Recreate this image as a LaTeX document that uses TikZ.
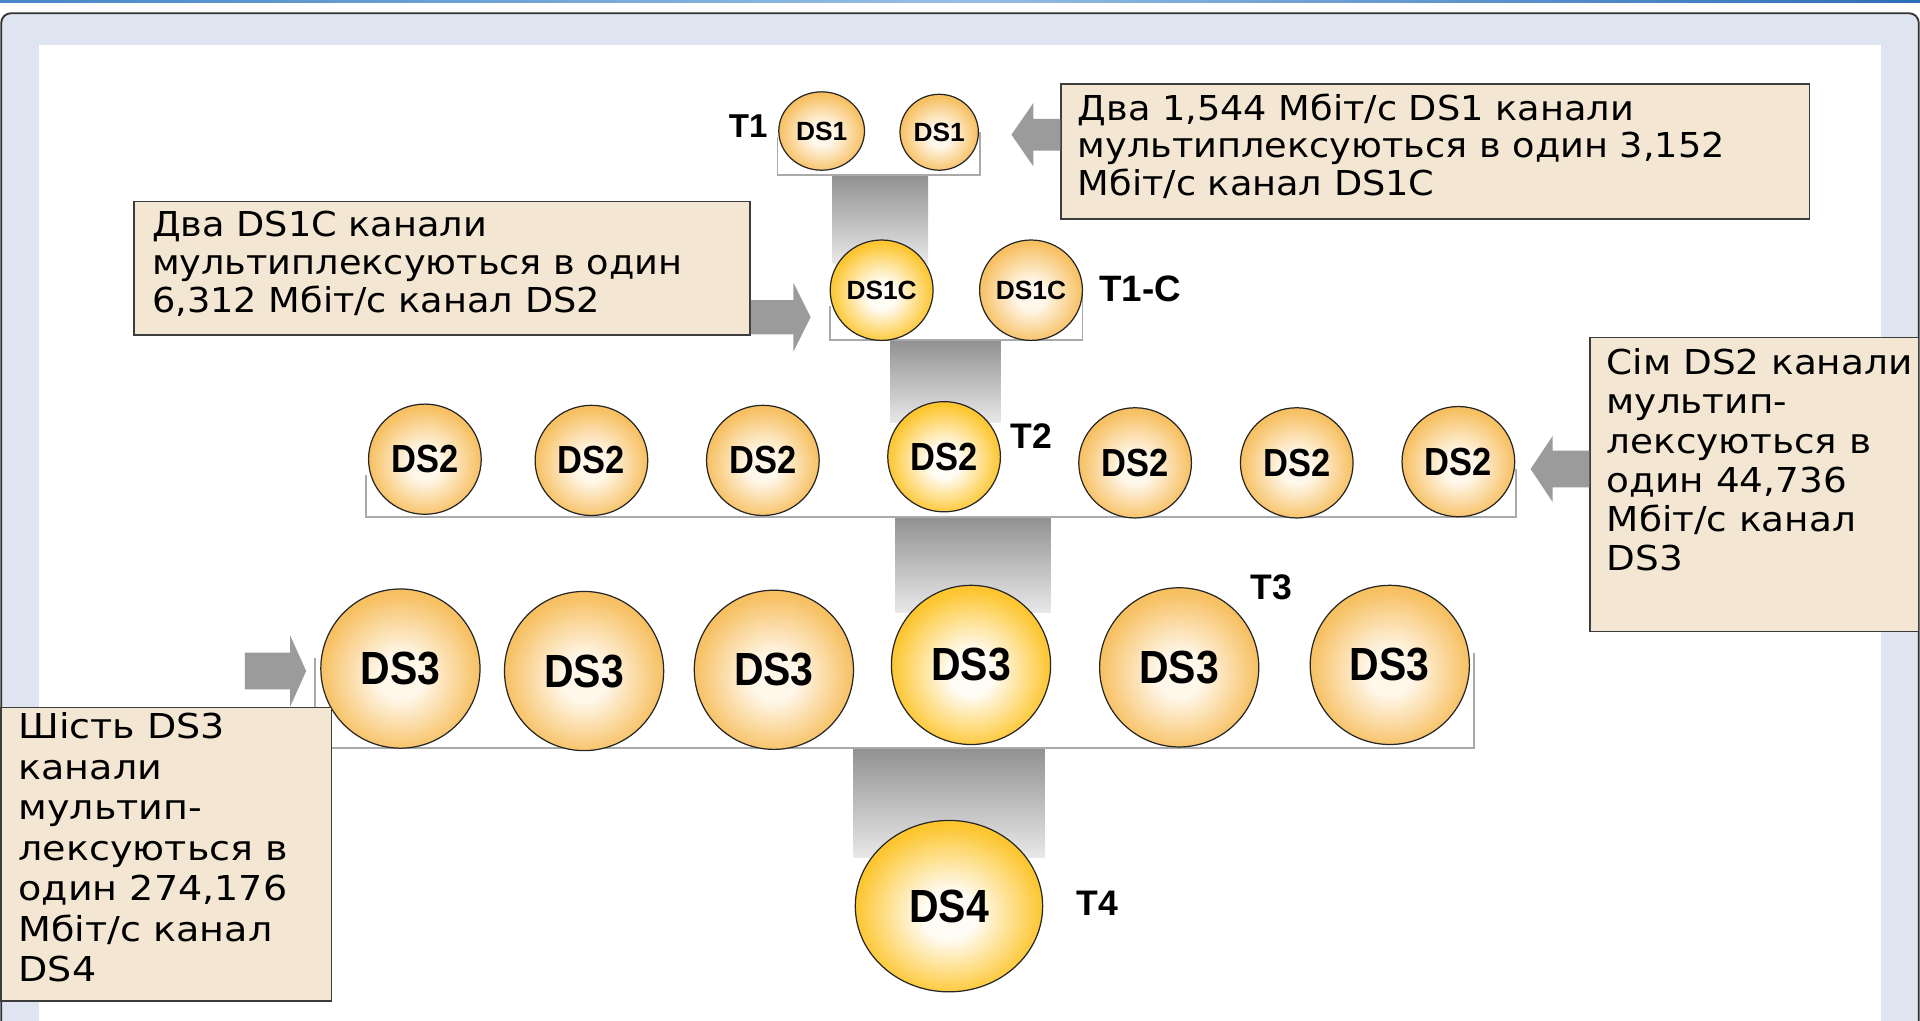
\documentclass[tikz,border=0pt]{standalone}
\usepackage{fontspec}
\usepackage{graphicx}
\setmainfont{DejaVu Sans}
\newfontfamily\boxfontA{DejaVu Sans}[FakeStretch=1.07]
\newfontfamily\boxfontC{DejaVu Sans}[FakeStretch=1.09]
\newfontfamily\boxfontD{DejaVu Sans}[FakeStretch=1.11]
\newfontfamily\arialf{Liberation Sans}
\usetikzlibrary{shapes.geometric}
\definecolor{frameblue}{RGB}{222,228,240}
\definecolor{frameline}{RGB}{50,50,50}
\definecolor{boxfill}{RGB}{243,231,211}
\definecolor{boxline}{RGB}{60,60,60}
\definecolor{ballin}{RGB}{255,247,234}
\definecolor{ballout}{RGB}{247,192,98}
\definecolor{hotin}{RGB}{255,252,245}
\definecolor{hotout}{RGB}{253,198,48}
\definecolor{brgray}{RGB}{170,170,170}
\definecolor{argray}{RGB}{155,155,155}
\definecolor{cgtop}{RGB}{145,145,145}
\definecolor{cgbot}{RGB}{232,232,232}
\definecolor{topA}{RGB}{70,135,200}
\definecolor{topB}{RGB}{150,190,228}
\definecolor{topC}{RGB}{45,110,185}
\pgfdeclareradialshading{ballnormal}{\pgfpoint{0bp}{-3bp}}{color(0bp)=(ballin); color(7bp)=(ballin); color(25bp)=(ballout); color(50bp)=(ballout)}
\pgfdeclareradialshading{ballhot}{\pgfpoint{0bp}{-3bp}}{color(0bp)=(hotin); color(7bp)=(hotin); color(25bp)=(hotout); color(50bp)=(hotout)}
\tikzset{
  ball/.style={ellipse, draw=black!85, line width=1pt, inner sep=0pt, shade, shading=ballnormal},
  hotball/.style={ball, shading=ballhot},
  smallball/.style={font=\arialf\bfseries\fontsize{21.5}{21.5}\selectfont},
  midball/.style={minimum width=92pt, minimum height=90pt, font=\arialf\bfseries\fontsize{32}{32}\selectfont},
  bigball/.style={minimum width=130pt, minimum height=130pt, font=\arialf\bfseries\fontsize{38}{38}\selectfont},
  tlabel/.style={font=\arialf\bfseries\fontsize{29}{29}\selectfont, inner sep=0pt},
  infobox/.style={draw=boxline, line width=1.3pt, fill=boxfill, inner sep=0pt, anchor=north west},
  boxtext/.style={inner sep=0pt, anchor=north west, align=left},
  connector/.style={top color=cgtop, bottom color=cgbot},
  bracket/.style={draw=brgray, line width=1.5pt},
  blockarrow/.style={fill=argray}
}
\newcommand{\nrw}[1]{\scalebox{0.88}[1]{#1}}
\begin{document}
\begin{tikzpicture}[x=1pt,y=-1pt]
\useasboundingbox (0,0) rectangle (1568,833);
\begin{scope}
\clip (0,0) rectangle (1568,833);
% top strip
\shade[left color=topA, right color=topC, middle color=topB] (0,0) rectangle (1568,2.6);
\fill[white] (0,2.6) rectangle (1568,10);
% frame
\draw[frameline, line width=1.5pt, fill=frameblue, rounded corners=8pt] (1,10.8) rectangle (1567,880);
\fill[white] (31.8,36.7) rectangle (1536,880);
\end{scope}

% connectors
\shade[connector] (680,143) rectangle (758,215);
\shade[connector] (727,278) rectangle (817,345);
\shade[connector] (731,422) rectangle (858,500);
\shade[connector] (697,611) rectangle (853,700);

% brackets
\draw[bracket] (635,112) -- (635,143) -- (800,143) -- (800,108);
\draw[bracket] (678,250) -- (678,278) -- (884,278) -- (884,240);
\draw[bracket] (299,388) -- (299,422) -- (1238,422) -- (1238,383);
\draw[bracket] (257,537) -- (257,611) -- (1204,611) -- (1204,533);

% T1 row
\node[ball, smallball, minimum width=70pt, minimum height=64pt] (ds1a) at (671,107) {DS1};
\node[ball, smallball, minimum width=64pt, minimum height=62pt] (ds1b) at (767,108) {DS1};
% T1-C row
\node[hotball, smallball, minimum width=84pt, minimum height=82pt] (ds1ca) at (720,237) {DS1C};
\node[ball, smallball, minimum width=84pt, minimum height=82pt] (ds1cb) at (842,237) {DS1C};
% DS2 row
\node[ball, midball] (ds2a) at (347,375) {\nrw{DS2}};
\node[ball, midball] (ds2b) at (483,376) {\nrw{DS2}};
\node[ball, midball] (ds2c) at (623,376) {\nrw{DS2}};
\node[hotball, midball] (ds2d) at (771,373) {\nrw{DS2}};
\node[ball, midball] (ds2e) at (927,378) {\nrw{DS2}};
\node[ball, midball] (ds2f) at (1059,378) {\nrw{DS2}};
\node[ball, midball] (ds2g) at (1191,377) {\nrw{DS2}};
% DS3 row
\node[ball, bigball] (ds3a) at (327,546) {\nrw{DS3}};
\node[ball, bigball] (ds3b) at (477,548) {\nrw{DS3}};
\node[ball, bigball] (ds3c) at (632,547) {\nrw{DS3}};
\node[hotball, bigball] (ds3d) at (793,543) {\nrw{DS3}};
\node[ball, bigball] (ds3e) at (963,545) {\nrw{DS3}};
\node[ball, bigball] (ds3f) at (1135,543) {\nrw{DS3}};
% DS4
\node[hotball, bigball, minimum width=153pt, minimum height=140pt] (ds4) at (775,740) {\nrw{DS4}};

% T labels
\node[tlabel, font=\arialf\bfseries\fontsize{27}{27}\selectfont] (t1) at (611,103) {T1};
\node[tlabel, font=\arialf\bfseries\fontsize{30}{30}\selectfont] (t1c) at (931,236) {T1-C};
\node[tlabel] (t2) at (842,356) {T2};
\node[tlabel] (t3) at (1038,480) {T3};
\node[tlabel] (t4) at (896,738) {T4};

% info boxes
\node[infobox, minimum width=611pt, minimum height=110pt] (boxA) at (866,68) {};
\node[boxtext, font=\boxfontA\fontsize{28}{30.5}\selectfont] (txtA) at (880,76.5) {Два 1,544 Мбіт/с DS1 канали\\мультиплексуються в один 3,152\\Мбіт/с канал DS1C};
\node[infobox, minimum width=503pt, minimum height=109pt] (boxB) at (109,164) {};
\node[boxtext, font=\boxfontA\fontsize{28}{31}\selectfont] (txtB) at (124,172.5) {Два DS1C канали\\мультиплексуються в один\\6,312 Мбіт/с канал DS2};
\node[infobox, minimum width=268pt, minimum height=240pt] (boxC) at (1298,275) {};
\node[boxtext, font=\boxfontC\fontsize{28}{32}\selectfont] (txtC) at (1312,284.5) {Сім DS2 канали\\мультип-\\лексуються в\\один 44,736\\Мбіт/с канал\\DS3};
\node[infobox, minimum width=270pt, minimum height=240pt] (boxD) at (0,577) {};
\node[boxtext, font=\boxfontD\fontsize{28}{33}\selectfont] (txtD) at (15,582) {Шість DS3\\канали\\мультип-\\лексуються в\\один 274,176\\Мбіт/с канал\\DS4};

% block arrows
\coordinate (a1tip) at (826,110);
\fill[blockarrow] (a1tip) -- ++(18,-26) -- ++(0,13) -- (boxA.west |- 0,97) -- (boxA.west |- 0,123) -- (844,123) -- (844,136) -- cycle;
\coordinate (a2tip) at (662,259);
\fill[blockarrow] (a2tip) -- ++(-14,-28) -- ++(0,14) -- (boxB.east |- 0,245) -- (boxB.east |- 0,273) -- (648,273) -- (648,287) -- cycle;
\coordinate (a3tip) at (1250,383);
\fill[blockarrow] (a3tip) -- ++(18,-27) -- ++(0,12) -- (boxC.west |- 0,368) -- (boxC.west |- 0,398) -- (1268,398) -- (1268,410) -- cycle;
\coordinate (a4tip) at (250,548);
\fill[blockarrow] (a4tip) -- ++(-13,-29) -- ++(0,14) -- (200,533) -- (200,563) -- (237,563) -- (237,577) -- cycle;
\end{tikzpicture}
\end{document}
